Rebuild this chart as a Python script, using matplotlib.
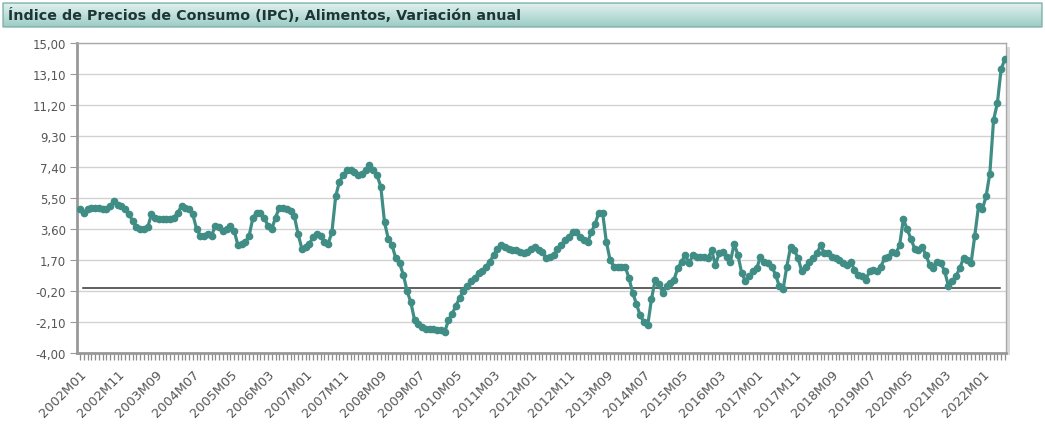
import numpy as np
import matplotlib
matplotlib.use('Agg')
import matplotlib.pyplot as plt
from matplotlib.colors import LinearSegmentedColormap
from matplotlib.patches import FancyBboxPatch, Rectangle

title = 'Índice de Precios de Consumo (IPC), Alimentos, Variación anual'

# variacion anual, una lista por año (2002M01 ... 2022M07)
v2002 = [4.8, 4.6, 4.8, 4.9, 4.9, 4.9, 4.8, 4.8, 5.0, 5.3, 5.1, 5.0]
v2003 = [4.8, 4.5, 4.1, 3.7, 3.6, 3.6, 3.7, 4.5, 4.3, 4.2, 4.2, 4.2]
v2004 = [4.2, 4.3, 4.6, 5.0, 4.9, 4.8, 4.5, 3.6, 3.2, 3.2, 3.3, 3.2]
v2005 = [3.8, 3.7, 3.5, 3.6, 3.8, 3.5, 2.6, 2.7, 2.8, 3.2, 4.3, 4.6]
v2006 = [4.6, 4.3, 3.8, 3.6, 4.3, 4.9, 4.9, 4.8, 4.7, 4.4, 3.3, 2.4]
v2007 = [2.5, 2.7, 3.1, 3.3, 3.2, 2.8, 2.7, 3.4, 5.6, 6.5, 6.9, 7.2]
v2008 = [7.2, 7.1, 6.9, 7.0, 7.2, 7.5, 7.2, 6.9, 6.2, 4.0, 3.0, 2.6]
v2009 = [1.8, 1.5, 0.8, -0.2, -0.9, -2.0, -2.2, -2.4, -2.5, -2.5, -2.5, -2.6]
v2010 = [-2.6, -2.7, -2.0, -1.6, -1.1, -0.6, -0.2, 0.1, 0.4, 0.6, 0.9, 1.0]
v2011 = [1.3, 1.6, 2.0, 2.4, 2.6, 2.5, 2.4, 2.3, 2.3, 2.2, 2.1, 2.2]
v2012 = [2.4, 2.5, 2.3, 2.2, 1.8, 1.9, 2.0, 2.4, 2.6, 2.9, 3.1, 3.4]
v2013 = [3.4, 3.1, 2.9, 2.8, 3.4, 3.9, 4.6, 4.6, 2.8, 1.7, 1.3, 1.3]
v2014 = [1.3, 1.3, 0.6, -0.3, -1.0, -1.7, -2.1, -2.3, -0.7, 0.5, 0.2, -0.3]
v2015 = [0.1, 0.3, 0.5, 1.2, 1.6, 2.0, 1.5, 2.0, 1.9, 1.9, 1.9, 1.8]
v2016 = [2.3, 1.4, 2.1, 2.2, 1.9, 1.6, 2.7, 2.0, 0.9, 0.4, 0.7, 1.0]
v2017 = [1.2, 1.9, 1.6, 1.5, 1.3, 0.8, 0.1, -0.1, 1.3, 2.5, 2.3, 1.8]
v2018 = [1.0, 1.3, 1.6, 1.8, 2.1, 2.6, 2.1, 2.1, 1.9, 1.8, 1.7, 1.5]
v2019 = [1.4, 1.6, 1.1, 0.8, 0.7, 0.5, 1.0, 1.1, 1.0, 1.3, 1.8, 1.9]
v2020 = [2.2, 2.1, 2.6, 4.2, 3.6, 3.0, 2.4, 2.3, 2.5, 2.0, 1.4, 1.2]
v2021 = [1.6, 1.5, 1.0, 0.1, 0.4, 0.7, 1.2, 1.8, 1.7, 1.5, 3.2, 5.0]
v2022 = [4.8, 5.6, 7.0, 10.3, 11.3, 13.4, 14.0]

values = (v2002 + v2003 + v2004 + v2005 + v2006 + v2007 + v2008 + v2009 + v2010
          + v2011 + v2012 + v2013 + v2014 + v2015 + v2016 + v2017 + v2018
          + v2019 + v2020 + v2021 + v2022)
months = [f'{2002 + i // 12}M{i % 12 + 1:02d}' for i in range(len(values))]
y_ticks = [-4.0, -2.1, -0.2, 1.7, 3.6, 5.5, 7.4, 9.3, 11.2, 13.1, 15.0]

line_color = '#3f8d85'
grey = '#555555'

fig = plt.figure(figsize=(10.45, 4.31), dpi=100)
W, H = 1045, 431

# barra del titulo con degradado
bar = fig.add_axes([2 / W, 1 - 29 / H, 1041 / W, 26 / H])
bar.axis('off')
bar.set_xlim(0, 1)
bar.set_ylim(0, 1)
cmap = LinearSegmentedColormap.from_list('bar', ['#e4f2f0', '#99cbc4'])
grad = np.linspace(0, 1, 60).reshape(-1, 1)
im = bar.imshow(grad, aspect='auto', cmap=cmap, extent=[0, 1, 0, 1], origin='upper')
box = FancyBboxPatch((0.001, 0.04), 0.998, 0.92, boxstyle='round,pad=0,rounding_size=0.004',
                     transform=bar.transAxes, fc='none', ec='#7fb0a9', lw=1)
bar.add_patch(box)
im.set_clip_path(box)
bar.text(6 / 1041, 0.5, title, fontsize=10.3, fontweight='bold', color='#1d3535',
         va='center', ha='left', transform=bar.transAxes)

# sombra del marco, solo a la derecha
shadow = fig.add_axes([1006 / W, 1 - 356 / H, 4 / W, 308 / H])
shadow.axis('off')
shadow.add_patch(Rectangle((0, 0), 1, 1, transform=shadow.transAxes, fc='#d9d9d9', ec='none'))

ax = fig.add_axes([77 / W, 1 - 354 / H, 929 / W, 310 / H])
ax.set_zorder(1)
ax.set_facecolor('white')
x = np.arange(len(values))
ax.plot(x, values, '-o', color=line_color, lw=2.3, ms=4.5, mec=line_color, zorder=3)
ax.axhline(0, xmin=0.0065, xmax=0.9935, color='#333333', lw=1.1, zorder=2)

ax.set_xlim(-0.8, 246.3)
ax.set_ylim(-4, 15)
ax.set_yticks(y_ticks)
ax.set_yticklabels([f'{v:.2f}'.replace('.', ',') for v in y_ticks])
ax.grid(axis='y', color='#d2d2d2', lw=1)
ax.set_axisbelow(True)

ax.set_xticks(x[::10])
ax.set_xticklabels(months[::10], rotation=45, ha='right', va='top', rotation_mode='anchor')
ax.set_xticks(x, minor=True)
ax.tick_params(axis='x', which='both', length=5, width=0.9, color='#8c8c8c',
               labelsize=9.3, labelcolor=grey, pad=5)
ax.tick_params(axis='y', length=5, width=0.8, color='#9a9a9a', labelsize=8.5,
               labelcolor=grey, pad=3)

for side in ['left', 'bottom']:
    ax.spines[side].set_color('#999999')
    ax.spines[side].set_linewidth(2)
for side in ['top', 'right']:
    ax.spines[side].set_color('#aaaaaa')
    ax.spines[side].set_linewidth(1)

fig.savefig('out.png', dpi=100)
